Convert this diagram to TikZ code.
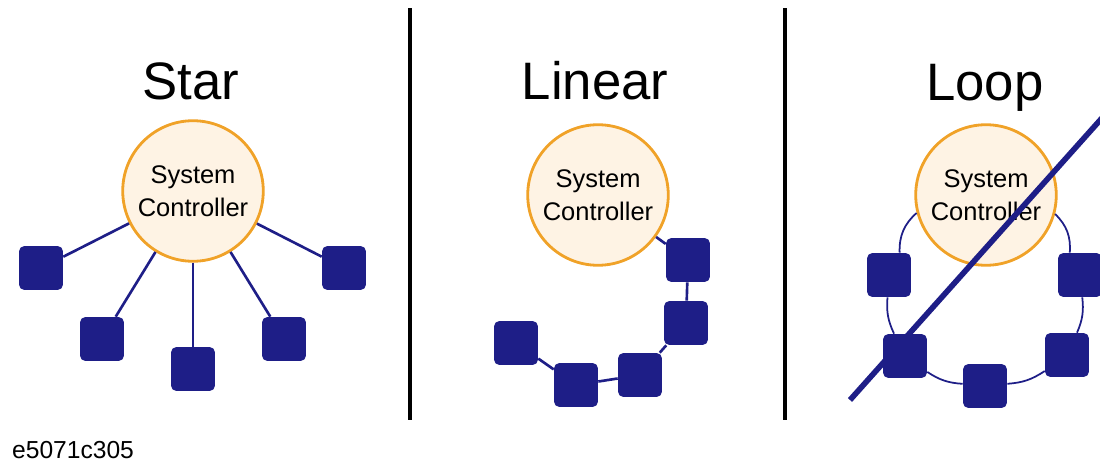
\documentclass[tikz,border=0pt]{standalone}
\usepackage{fontspec}
\setmainfont{Liberation Sans}
\definecolor{navy}{RGB}{30,30,135}
\definecolor{peach}{RGB}{254,243,228}
\definecolor{amber}{RGB}{240,162,40}
\tikzset{
    ctrl/.style={circle, draw=amber, fill=peach, line width=1.6pt, minimum size=80pt, inner sep=0pt, align=center, font=\fontsize{14.5}{19}\selectfont},
    unit/.style={rectangle, rounded corners=3pt, fill=navy, minimum size=25pt, inner sep=0pt},
    wire/.style={navy, line width=1.5pt},
    ring/.style={navy, line width=1pt},
    title/.style={anchor=base, font=\fontsize{30}{36}\selectfont},
    divider/.style={black, line width=2.6pt}
}
\begin{document}
\begin{tikzpicture}[x=0.02cm, y=-0.02cm]
            \useasboundingbox (0,0) rectangle (1100,463);
            \draw[divider] (410,8) -- (410,420);
            \draw[divider] (785,8) -- (785,420);
            \node[title] (tStar) at (191,99) {Star};
            \node[title] (tLinear) at (595,99) {Linear};
            \node[title] (tLoop) at (985,100) {Loop};
            \node[anchor=west, font=\fontsize{14}{16}\selectfont] (code) at (6,450) {e5071c305};

            \node[ctrl] (sc) at (193,191) {System\\Controller};
            \node[unit] (s1) at (41,268) {};
            \node[unit] (s2) at (102,339) {};
            \node[unit] (s3) at (193,369) {};
            \node[unit] (s4) at (284,339) {};
            \node[unit] (s5) at (344,268) {};
            \foreach \s in {s1,s2,s3,s4,s5}
                \draw[wire] (sc) -- (\s);

            \node[ctrl] (lc) at (598,195) {System\\Controller};
            \node[unit] (l1) at (688,260) {};
            \node[unit] (l2) at (686,323) {};
            \node[unit] (l3) at (640,375) {};
            \node[unit] (l4) at (576,385) {};
            \node[unit] (l5) at (516,343) {};
            \draw[wire] (lc) -- (l1) -- (l2) -- (l3) -- (l4) -- (l5);

            \node[ctrl] (pc) at (986,195) {System\\Controller};
            \node[unit] (p1) at (889,275) {};
            \node[unit] (p2) at (1080,275) {};
            \node[unit] (p3) at (905,356) {};
            \node[unit] (p4) at (985,386) {};
            \node[unit] (p5) at (1067,355) {};
            \draw[ring] (pc) to[bend right=25] (p1);
            \draw[ring] (p1) to[bend right=15] (p3);
            \draw[ring] (p3) to[bend right=15] (p4);
            \draw[ring] (p4) to[bend right=15] (p5);
            \draw[ring] (p5) to[bend right=15] (p2);
            \draw[ring] (p2) to[bend right=25] (pc);
            \coordinate (cutA) at (850,400);
            \coordinate (cutB) at (1102,118);
            \draw[navy, line width=3.2pt] (cutA) -- (cutB);
        \end{tikzpicture}
\end{document}
